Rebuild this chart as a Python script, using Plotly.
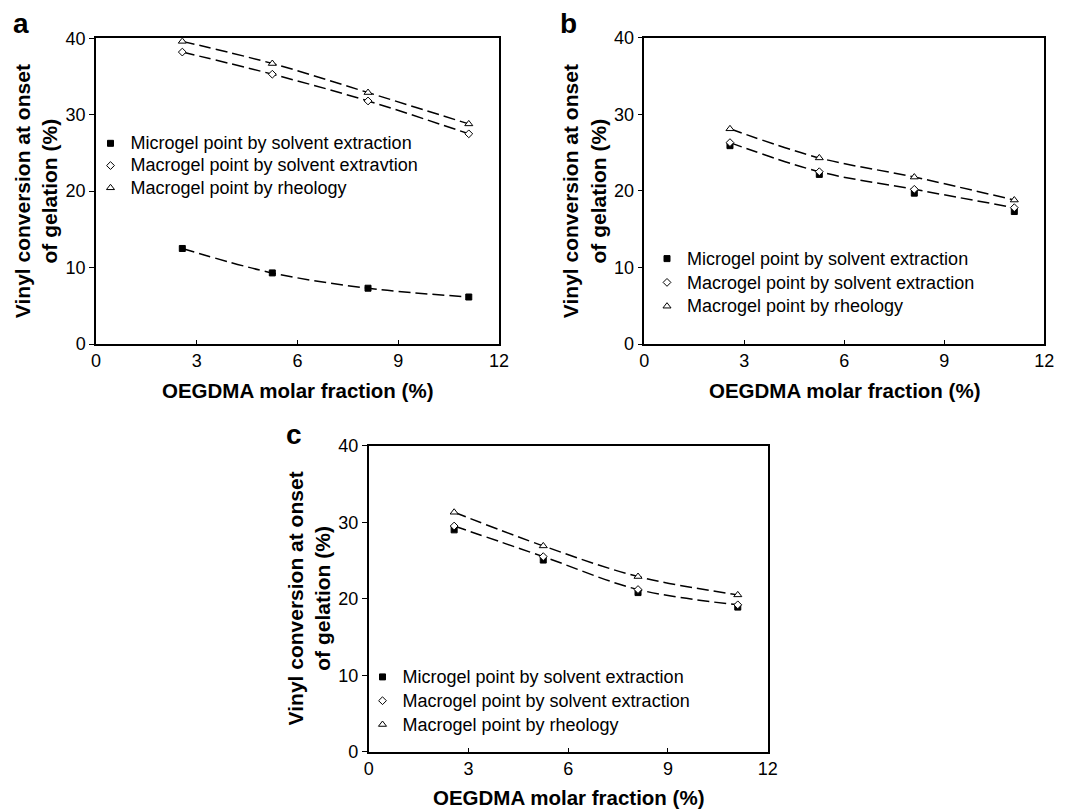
import plotly.graph_objects as go

# target picture size and the page's default body margin
W, H = 1067, 810
OFF = 8
FW, FH = W - OFF, H - OFF

# ---------------- data ----------------
x_frac = [2.57, 5.25, 8.1, 11.1]

a_micro = [12.5, 9.3, 7.3, 6.15]
a_macro_se = [38.2, 35.3, 31.8, 27.5]
a_macro_rh = [39.6, 36.7, 32.9, 28.8]

b_micro = [25.9, 22.15, 19.7, 17.3]
b_macro_se = [26.3, 22.5, 20.2, 17.8]
b_macro_rh = [28.1, 24.3, 21.8, 18.8]

c_micro = [29.0, 25.05, 20.8, 18.9]
c_macro_se = [29.5, 25.5, 21.2, 19.2]
c_macro_rh = [31.3, 26.9, 22.9, 20.5]

x_ticks = [0, 3, 6, 9, 12]
y_ticks = [0, 10, 20, 30, 40]

names_a = ["Microgel point by solvent extraction",
           "Macrogel point by solvent extravtion",
           "Macrogel point by rheology"]
names_bc = ["Microgel point by solvent extraction",
            "Macrogel point by solvent extraction",
            "Macrogel point by rheology"]

y_title = "<b>Vinyl conversion at onset<br>of gelation (%)</b>"
x_title = "<b>OEGDMA molar fraction (%)</b>"

FONT = "Liberation Sans, Arial, sans-serif"

# panel pixel boxes in the picture: (left, right, top, bottom)
boxes = {
    "a": (96, 499, 38.3, 344),
    "b": (644.3, 1044.3, 37.7, 344),
    "c": (368.7, 767.7, 445.7, 751.7),
}

def px_x(p):
    return (p - OFF) / FW

def px_y(p):
    return 1 - (p - OFF) / FH

def leg_name(s):
    return "<span style='font-size:18px'>%s</span>" % s

fig = go.Figure()

panels = [
    ("a", "x", "y", "legend", a_micro, a_macro_se, a_macro_rh, names_a, [True, True, True]),
    ("b", "x2", "y2", "legend2", b_micro, b_macro_se, b_macro_rh, names_bc, [False, True, True]),
    ("c", "x3", "y3", "legend3", c_micro, c_macro_se, c_macro_rh, names_bc, [False, True, True]),
]

dash = "12px,5px"
for key, xa, ya, lg, micro, mse, mrh, names, lines in panels:
    series = [micro, mse, mrh]
    for s, show in zip(series, lines):
        if show:
            fig.add_trace(go.Scatter(
                x=x_frac, y=s, mode="lines", xaxis=xa, yaxis=ya,
                line=dict(color="black", width=1.5, dash=dash, shape="spline", smoothing=1.0),
                showlegend=False, hoverinfo="skip"))
    fig.add_trace(go.Scatter(
        x=x_frac, y=micro, mode="markers", name=leg_name(names[0]), xaxis=xa, yaxis=ya, legend=lg,
        marker=dict(symbol="square", size=6, color="black", line=dict(color="black", width=1))))
    fig.add_trace(go.Scatter(
        x=x_frac, y=mse, mode="markers", name=leg_name(names[1]), xaxis=xa, yaxis=ya, legend=lg,
        marker=dict(symbol="diamond", size=6, color="white", line=dict(color="black", width=1))))
    fig.add_trace(go.Scatter(
        x=x_frac, y=mrh, mode="markers", name=leg_name(names[2]), xaxis=xa, yaxis=ya, legend=lg,
        marker=dict(symbol="triangle-up", size=7, color="white", line=dict(color="black", width=1))))

axis_common_x = dict(range=[0, 12], tickvals=x_ticks, ticks="inside", ticklen=4, tickwidth=1,
                     tickcolor="black", showline=True, mirror=True, linecolor="black", linewidth=1.5,
                     showgrid=False, zeroline=False, automargin=False,
                     tickfont=dict(family=FONT, size=18, color="black"))
axis_common_y = dict(range=[0, 40], tickvals=y_ticks, ticks="outside", ticklen=5, tickwidth=1,
                     tickcolor="black", showline=True, mirror=True, linecolor="black", linewidth=1.5,
                     showgrid=False, zeroline=False, automargin=False,
                     tickfont=dict(family=FONT, size=18, color="black"))

layout = dict(width=FW, height=FH, margin=dict(l=0, r=0, t=0, b=0, pad=0, autoexpand=False),
              template="none",
              paper_bgcolor="white", plot_bgcolor="white",
              font=dict(family=FONT, color="black"))

axis_names = {"a": ("xaxis", "yaxis", "x", "y"),
              "b": ("xaxis2", "yaxis2", "x2", "y2"),
              "c": ("xaxis3", "yaxis3", "x3", "y3")}

annotations = []
legend_pos = {"a": (90.5, 165.7, 14.8), "b": (647, 282.7, 16), "c": (362.5, 701, 16)}
letter_pos = {"a": (20.5, 24), "b": (568, 24), "c": (294, 434)}
legend_keys = {"a": "legend", "b": "legend2", "c": "legend3"}

for key, (l, r, t, b) in boxes.items():
    xn, yn, xr, yr = axis_names[key]
    layout[xn] = dict(axis_common_x, domain=[px_x(l), px_x(r)], anchor=yr)
    layout[yn] = dict(axis_common_y, domain=[px_y(b), px_y(t)], anchor=xr)
    annotations.append(dict(text=y_title, textangle=-90, xref="paper", yref="paper",
                            x=px_x(l - 60), y=px_y((t + b) / 2), xanchor="center", yanchor="middle",
                            showarrow=False, font=dict(family=FONT, size=21, color="black")))
    annotations.append(dict(text=x_title, xref="paper", yref="paper",
                            x=px_x((l + r) / 2), y=px_y(b + 46), xanchor="center", yanchor="middle",
                            showarrow=False, font=dict(family=FONT, size=20.5, color="black")))
    lx, ly = letter_pos[key]
    annotations.append(dict(text="<b>%s</b>" % key, xref="paper", yref="paper",
                            x=px_x(lx), y=px_y(ly), xanchor="center", yanchor="middle",
                            showarrow=False, font=dict(family=FONT, size=28, color="black")))
    gx, gy, gf = legend_pos[key]
    layout[legend_keys[key]] = dict(x=px_x(gx), y=px_y(gy), xanchor="left", yanchor="middle",
                                    bgcolor="rgba(0,0,0,0)", borderwidth=0,
                                    font=dict(family=FONT, size=gf, color="black"),
                                    tracegroupgap=0)

layout["annotations"] = annotations
fig.update_layout(**layout)

fig.write_html("out.html")
